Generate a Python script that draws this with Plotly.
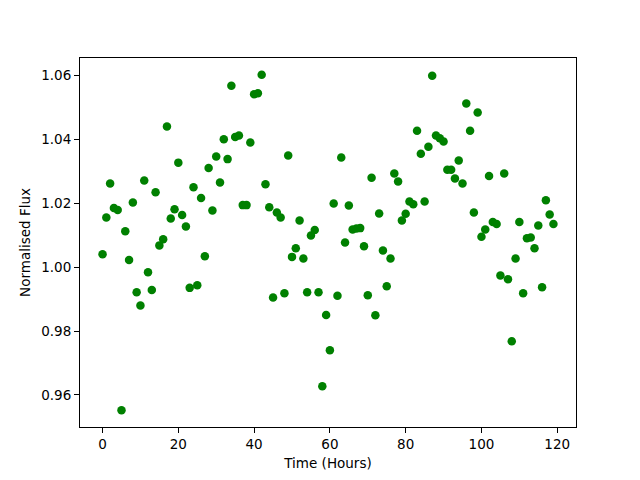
import plotly.graph_objects as go

time_hours = [0, 1, 2, 3, 4, 5, 6, 7, 8, 9, 10, 11, 12, 13, 14, 15, 16, 17, 18, 19,
              20, 21, 22, 23, 24, 25, 26, 27, 28, 29, 30, 31, 32, 33, 34, 35, 36, 37, 38, 39,
              40, 41, 42, 43, 44, 45, 46, 47, 48, 49, 50, 51, 52, 53, 54, 55, 56, 57, 58, 59,
              60, 61, 62, 63, 64, 65, 66, 67, 68, 69, 70, 71, 72, 73, 74, 75, 76, 77, 78, 79,
              80, 81, 82, 83, 84, 85, 86, 87, 88, 89, 90, 91, 92, 93, 94, 95, 96, 97, 98, 99,
              100, 101, 102, 103, 104, 105, 106, 107, 108, 109, 110, 111, 112, 113, 114, 115,
              116, 117, 118, 119]

norm_flux = [1.0040, 1.0155, 1.0262, 1.0185, 1.0179, 0.9552, 1.0112, 1.0022, 1.0202, 0.9921,
             0.9880, 1.0271, 0.9984, 0.9928, 1.0234, 1.0068, 1.0087, 1.0440, 1.0152, 1.0181,
             1.0327, 1.0163, 1.0127, 0.9935, 1.0250, 0.9943, 1.0216, 1.0034, 1.0310, 1.0177,
             1.0346, 1.0265, 1.0400, 1.0338, 1.0568, 1.0407, 1.0412, 1.0194, 1.0194, 1.0390,
             1.0541, 1.0544, 1.0602, 1.0259, 1.0187, 0.9905, 1.0171, 1.0155, 0.9918, 1.0349,
             1.0032, 1.0059, 1.0146, 1.0027, 0.9921, 1.0099, 1.0116, 0.9921, 0.9627, 0.9850,
             0.9740, 1.0199, 0.9910, 1.0343, 1.0077, 1.0193, 1.0118, 1.0121, 1.0122, 1.0065,
             0.9912, 1.0280, 0.9849, 1.0168, 1.0052, 0.9940, 1.0027, 1.0293, 1.0268, 1.0146,
             1.0167, 1.0205, 1.0197, 1.0427, 1.0355, 1.0205, 1.0377, 1.0599, 1.0412, 1.0403,
             1.0393, 1.0305, 1.0305, 1.0277, 1.0334, 1.0262, 1.0512, 1.0427, 1.0171, 1.0484,
             1.0095, 1.0118, 1.0285, 1.0141, 1.0135, 0.9974, 1.0293, 0.9962, 0.9768, 1.0027,
             1.0141, 0.9918, 1.0090, 1.0093, 1.0059, 1.0130, 0.9937, 1.0209, 1.0165, 1.0135]

x_ticks = [0, 20, 40, 60, 80, 100, 120]
y_ticks = [0.96, 0.98, 1.00, 1.02, 1.04, 1.06]
y_tick_labels = ["0.96", "0.98", "1.00", "1.02", "1.04", "1.06"]

def padded(vals, frac=0.05):
    lo, hi = min(vals), max(vals)
    d = (hi - lo) * frac
    return [lo - d, hi + d]

fig = go.Figure(go.Scatter(
    x=time_hours, y=norm_flux, mode="markers",
    marker=dict(color="#008000", size=8.5, line=dict(width=0)),
))

font = dict(family="DejaVu Sans", size=13.5, color="black")
axis_common = dict(
    showline=True, linecolor="black", linewidth=1, mirror=True,
    ticks="outside", ticklen=5, tickwidth=1, tickcolor="black",
    showgrid=False, zeroline=False, tickfont=font,
)

fig.update_layout(
    width=640, height=480,
    margin=dict(l=80, r=64, t=58, b=53),
    paper_bgcolor="white", plot_bgcolor="white",
    showlegend=False, font=font,
    xaxis=dict(range=padded(time_hours), tickvals=x_ticks,
               title=dict(text="Time (Hours)", font=font, standoff=7), **axis_common),
    yaxis=dict(range=padded(norm_flux), tickvals=y_ticks, ticktext=y_tick_labels,
               title=dict(text="Normalised Flux", font=font, standoff=7), **axis_common),
)

fig.write_html("out.html", config={"displayModeBar": False},
               post_script="document.body.style.margin='0';document.body.style.overflow='hidden';")
